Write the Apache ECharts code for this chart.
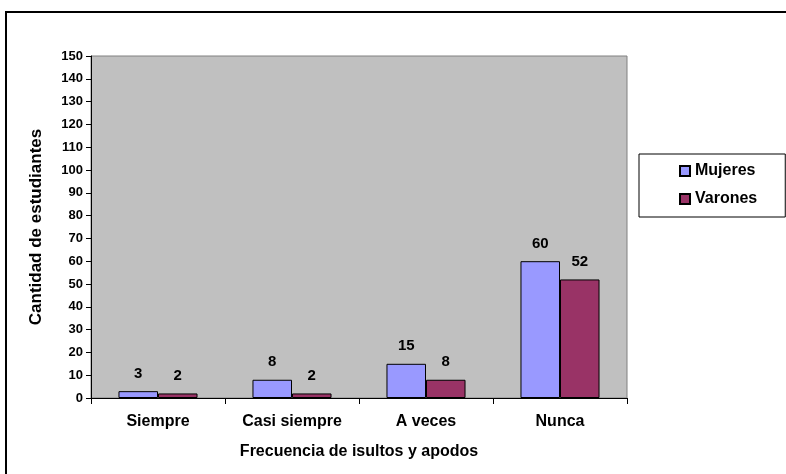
<!DOCTYPE html>
<html><head><meta charset="utf-8">
<script src="https://cdn.jsdelivr.net/npm/echarts@6/dist/echarts.min.js"></script>
<style>html,body{margin:0;padding:0;background:#fff}#c{width:786px;height:474px}</style>
</head><body><div id="c"></div>
<script>
const categories = ['Siempre', 'Casi siempre', 'A veces', 'Nunca'];
const mujeres = [3, 8, 15, 60];
const varones = [2, 2, 8, 52];
const seriesNames = ['Mujeres', 'Varones'];
const yAxisName = 'Cantidad de estudiantes';
const xAxisName = 'Frecuencia de isultos y apodos';

const font = '"Liberation Sans", Arial, sans-serif';
const chart = echarts.init(document.getElementById('c'), null, {renderer: 'canvas'});
const labelStyle = {show: true, position: 'top', distance: 10, color: '#000', fontWeight: 'bold', fontSize: 15, fontFamily: font};
chart.setOption({
  animation: false,
  backgroundColor: '#fff',
  graphic: [{type: 'rect', shape: {x: 6, y: 12, width: 800, height: 480}, style: {fill: 'none', stroke: '#000', lineWidth: 2}, z: -10}],
  grid: {left: 91, top: 56, right: 159, bottom: 76, show: true, backgroundColor: '#C0C0C0', borderColor: '#808080', borderWidth: 1},
  legend: {
    orient: 'vertical', left: 639, top: 154,
    padding: [9, 28, 10, 40], itemGap: 12, itemWidth: 10, itemHeight: 10,
    backgroundColor: '#fff', borderColor: '#000', borderWidth: 1,
    textStyle: {fontFamily: font, fontWeight: 'bold', fontSize: 16, color: '#000'},
    data: seriesNames.map(n => ({name: n, icon: 'rect'}))
  },
  xAxis: {
    type: 'category', data: categories,
    name: xAxisName, nameLocation: 'middle', nameGap: 46,
    nameTextStyle: {fontFamily: font, fontWeight: 'bold', fontSize: 16, color: '#000'},
    axisLine: {lineStyle: {color: '#000', width: 1}},
    axisTick: {show: true, alignWithLabel: false, length: 6, lineStyle: {color: '#000'}},
    axisLabel: {margin: 16, fontFamily: font, fontWeight: 'bold', fontSize: 16, color: '#000'}
  },
  yAxis: {
    type: 'value', min: 0, max: 150, interval: 10,
    name: yAxisName, nameLocation: 'middle', nameGap: 46,
    nameTextStyle: {fontFamily: font, fontWeight: 'bold', fontSize: 17, color: '#000'},
    axisLine: {show: true, lineStyle: {color: '#000', width: 1}},
    axisTick: {show: true, length: 5, lineStyle: {color: '#000'}},
    splitLine: {show: false},
    axisLabel: {margin: 8, fontFamily: font, fontWeight: 'bold', fontSize: 13, color: '#000'}
  },
  series: [
    {name: seriesNames[0], type: 'bar', data: mujeres, barGap: '0%', barCategoryGap: '41%',
     itemStyle: {color: '#9999FF', borderColor: '#000', borderWidth: 1}, label: labelStyle},
    {name: seriesNames[1], type: 'bar', data: varones,
     itemStyle: {color: '#993366', borderColor: '#000', borderWidth: 1}, label: labelStyle}
  ]
});
</script></body></html>
